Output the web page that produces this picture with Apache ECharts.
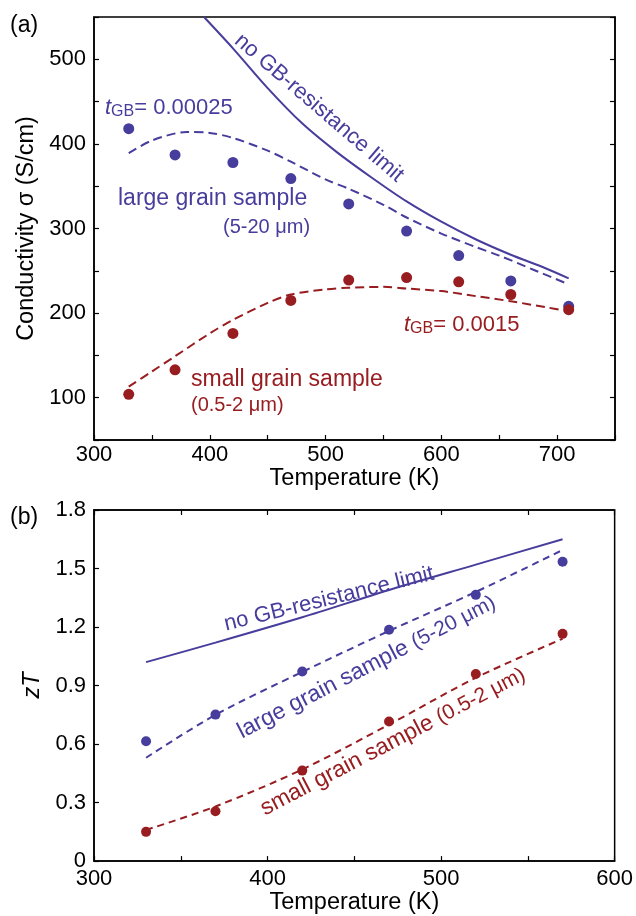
<!DOCTYPE html>
<html>
<head>
<meta charset="utf-8">
<script src="https://cdn.jsdelivr.net/npm/echarts@6/dist/echarts.min.js"></script>
<style>
  html, body { margin: 0; background: #fff; }
  #chart { width: 636px; height: 916px; }
</style>
</head>
<body>
<div id="chart"></div>
<script>
// (a) conductivity vs temperature
const tempA = [330, 370, 420, 470, 520, 570, 615, 660, 710];
const sigmaLarge = [418, 387, 378, 359, 329, 297, 268, 238, 208];
const sigmaSmall = [104, 133, 176, 215, 239, 242, 237, 222, 204];

// model curves (a)
const noGbTempA = [395, 420, 450, 480, 510, 540, 570, 600, 630, 660, 690, 710];
const noGbSigma = [550, 513, 466, 424, 390, 360, 332, 308, 287, 269, 253, 241];
const fitLargeTempA = [330, 350, 380, 400, 420, 450, 470, 500, 520, 550, 570, 600, 630, 650, 680, 710];
const fitLargeSigma = [389, 404, 414, 413, 407, 392, 379, 358, 347, 328, 313, 294, 278, 268, 251, 234];
const fitSmallTempA = [330, 350, 370, 400, 420, 450, 470, 500, 520, 550, 570, 600, 630, 660, 690, 710];
const fitSmallSigma = [113, 131, 149, 176, 192, 212, 222, 228, 230, 231, 229, 226, 220, 214, 207, 202];

// (b) zT vs temperature
const tempB = [330, 370, 420, 470, 520, 570];
const ztLarge = [0.614, 0.751, 0.972, 1.186, 1.365, 1.535];
const ztSmall = [0.150, 0.256, 0.464, 0.716, 0.959, 1.165];
const noGbZt = [1.02, 1.12, 1.25, 1.39, 1.52, 1.65];
const fitLargeZt = [0.53, 0.75, 0.97, 1.18, 1.38, 1.595];
const fitSmallZt = [0.16, 0.28, 0.47, 0.70, 0.94, 1.14];

const BLUE = '#473d9c';
const RED = '#981d20';
const FONT = 'Liberation Sans';

const zip = (xs, ys) => xs.map((x, i) => [x, ys[i]]);

const axisCommon = {
  axisLine: { show: true, lineStyle: { color: '#000', width: 1.5 } },
  axisTick: { show: true, inside: true, length: 5, lineStyle: { color: '#000', width: 1.2 } },
  splitLine: { show: false },
  axisLabel: { color: '#000', fontSize: 22, fontFamily: FONT },
  nameTextStyle: { color: '#000', fontSize: 23.5, fontFamily: FONT }
};
const noLabel = { show: false };
const hundreds = v => (v % 100 === 0 ? String(v) : '');

function line(name, data, color, dashed, xi, yi) {
  return {
    name, type: 'line', data, xAxisIndex: xi, yAxisIndex: yi,
    smooth: 0.3, symbol: 'none', z: 2,
    lineStyle: { color, width: 2, type: dashed ? dashed : 'solid' }
  };
}
function dots(name, data, color, size, xi, yi) {
  return {
    name, type: 'scatter', data, xAxisIndex: xi, yAxisIndex: yi,
    symbolSize: size, z: 3, itemStyle: { color, opacity: 1 }
  };
}

const tgbRich = {
  t: { fontSize: 22, fontStyle: 'italic', fontFamily: FONT },
  g: { fontSize: 16, fontFamily: FONT, verticalAlign: 'bottom', padding: [8, 0, 0, 0] },
  v: { fontSize: 22, fontFamily: FONT }
};

const options = {
  animation: false,
  backgroundColor: '#fff',
  textStyle: { fontFamily: FONT },
  grid: [
    { left: 94, top: 17, width: 521, height: 423, show: true, borderColor: '#000', borderWidth: 1.5 },
    { left: 94, top: 510, width: 521, height: 352, show: true, borderColor: '#000', borderWidth: 1.5 }
  ],
  xAxis: [
    Object.assign({}, axisCommon, {
      type: 'value', gridIndex: 0, min: 300, max: 750, interval: 50,
      name: 'Temperature (K)', nameLocation: 'middle', nameGap: 24,
      axisLabel: Object.assign({}, axisCommon.axisLabel, { margin: 4, formatter: hundreds })
    }),
    Object.assign({}, axisCommon, {
      type: 'value', gridIndex: 1, min: 300, max: 600, interval: 50,
      name: 'Temperature (K)', nameLocation: 'middle', nameGap: 26,
      axisLabel: Object.assign({}, axisCommon.axisLabel, { margin: 7, formatter: hundreds })
    }),
    Object.assign({}, axisCommon, {
      type: 'value', gridIndex: 1, position: 'top', min: 300, max: 600, interval: 50,
      axisLabel: noLabel
    })
  ],
  yAxis: [
    Object.assign({}, axisCommon, {
      type: 'value', gridIndex: 0, min: 50, max: 550, interval: 50,
      name: 'Conductivity σ (S/cm)', nameLocation: 'middle', nameGap: 50,
      axisLabel: Object.assign({}, axisCommon.axisLabel, { margin: 8, formatter: hundreds })
    }),
    Object.assign({}, axisCommon, {
      type: 'value', gridIndex: 0, position: 'right', min: 50, max: 550, interval: 50,
      axisLabel: noLabel
    }),
    Object.assign({}, axisCommon, {
      type: 'value', gridIndex: 1, min: 0, max: 1.8, interval: 0.3,
      name: 'zT', nameLocation: 'middle', nameGap: 50,
      nameTextStyle: Object.assign({}, axisCommon.nameTextStyle, { fontStyle: 'italic' }),
      axisLabel: Object.assign({}, axisCommon.axisLabel, {
        margin: 8,
        formatter: v => (Math.abs(v) < 1e-9 ? '0' : v.toFixed(1))
      })
    })
  ],
  series: [
    line('no GB (a)', zip(noGbTempA, noGbSigma), BLUE, null, 0, 0),
    line('large fit (a)', zip(fitLargeTempA, fitLargeSigma), BLUE, [9, 5], 0, 0),
    line('small fit (a)', zip(fitSmallTempA, fitSmallSigma), RED, [9, 5], 0, 0),
    dots('large (a)', zip(tempA, sigmaLarge), BLUE, 11, 0, 0),
    dots('small (a)', zip(tempA, sigmaSmall), RED, 11, 0, 0),

    line('no GB (b)', zip(tempB, noGbZt), BLUE, null, 1, 2),
    line('large fit (b)', zip(tempB, fitLargeZt), BLUE, [7, 5], 1, 2),
    line('small fit (b)', zip(tempB, fitSmallZt), RED, [7, 5], 1, 2),
    dots('large (b)', zip(tempB, ztLarge), BLUE, 10, 1, 2),
    dots('small (b)', zip(tempB, ztSmall), RED, 10, 1, 2)
  ],
  graphic: [
    // panel letters
    { type: 'text', left: 10, top: 14, style: { text: '(a)', fill: '#000', font: '23px ' + FONT } },
    { type: 'text', left: 10, top: 506, style: { text: '(b)', fill: '#000', font: '23px ' + FONT } },

    // (a) annotations
    { type: 'text', x: 319, y: 108, rotation: -0.71,
      style: { text: 'no GB-resistance limit', fill: BLUE, font: '22px ' + FONT, align: 'center', verticalAlign: 'middle' } },
    { type: 'text', x: 105, y: 108,
      style: { text: '{t|t}{g|GB}{v|= 0.00025}', fill: BLUE, align: 'left', verticalAlign: 'middle', rich: tgbRich } },
    { type: 'text', x: 118, y: 199,
      style: { text: 'large grain sample', fill: BLUE, font: '23px ' + FONT, align: 'left', verticalAlign: 'middle' } },
    { type: 'text', x: 223, y: 227,
      style: { text: '(5-20 μm)', fill: BLUE, font: '20px ' + FONT, align: 'left', verticalAlign: 'middle' } },
    { type: 'text', x: 404, y: 325,
      style: { text: '{t|t}{g|GB}{v|= 0.0015}', fill: RED, align: 'left', verticalAlign: 'middle', rich: tgbRich } },
    { type: 'text', x: 191, y: 380,
      style: { text: 'small grain sample', fill: RED, font: '23px ' + FONT, align: 'left', verticalAlign: 'middle' } },
    { type: 'text', x: 191, y: 405,
      style: { text: '(0.5-2 μm)', fill: RED, font: '20px ' + FONT, align: 'left', verticalAlign: 'middle' } },

    // (b) annotations
    { type: 'text', x: 329, y: 599, rotation: 0.24,
      style: { text: 'no GB-resistance limit', fill: BLUE, font: '22px ' + FONT, align: 'center', verticalAlign: 'middle' } },
    { type: 'text', x: 239, y: 733, rotation: 0.475,
      style: { text: '{a|large grain sample }{b|(5-20 μm)}', fill: BLUE, align: 'left', verticalAlign: 'middle',
        rich: { a: { fontSize: 23, fontFamily: FONT }, b: { fontSize: 21, fontFamily: FONT } } } },
    { type: 'text', x: 262, y: 810, rotation: 0.48,
      style: { text: '{a|small grain sample }{b|(0.5-2 μm)}', fill: RED, align: 'left', verticalAlign: 'middle',
        rich: { a: { fontSize: 23, fontFamily: FONT }, b: { fontSize: 21, fontFamily: FONT } } } }
  ]
};

const myChart = echarts.init(document.getElementById('chart'));
myChart.setOption(options);
</script>
</body>
</html>
